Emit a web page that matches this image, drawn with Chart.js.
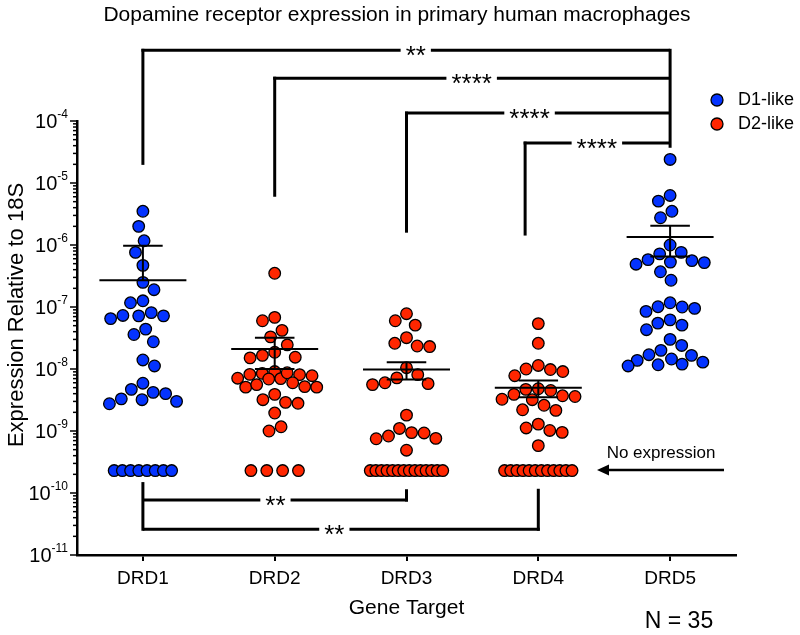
<!DOCTYPE html>
<html>
<head>
<meta charset="utf-8">
<script src="https://cdn.jsdelivr.net/npm/chart.js@4.4.1/dist/chart.umd.min.js"></script>
<style>
  html, body { margin: 0; padding: 0; background: #fff; }
  #wrap { width: 800px; height: 635px; position: relative; }
</style>
</head>
<body>
<div id="wrap"><canvas id="grafico"></canvas></div>
<script>
// value used for samples with no detectable expression
const NE = 2.3e-10;

const genes = ['DRD1', 'DRD2', 'DRD3', 'DRD4', 'DRD5'];
const family = ['D1-like', 'D2-like', 'D2-like', 'D2-like', 'D1-like'];

const drd1 = [3.5e-6, 2.0e-6, 1.17e-6, 7.6e-7, 4.7e-7, 2.5e-7, 1.9e-7, 1.17e-7, 1.26e-7,
  7.2e-8, 7.2e-8, 6.5e-8, 7.3e-8, 8.1e-8, 4.4e-8, 3.6e-8, 2.75e-8, 1.4e-8, 1.12e-8,
  5.9e-9, 4.2e-9, 3.3e-9, 3.0e-9, 2.75e-9, 3.2e-9, 4.0e-9, 4.7e-9,
  NE, NE, NE, NE, NE, NE, NE, NE];
const drd2 = [3.5e-7, 6.8e-8, 6.0e-8, 4.2e-8, 3.3e-8, 2.45e-8, 1.86e-8, 1.66e-8, 1.51e-8,
  1.55e-8, 8.5e-9, 8.1e-9, 9.1e-9, 6.9e-9, 7.0e-9, 8.7e-9, 7.1e-9, 7.8e-9, 8.2e-9,
  5.1e-9, 5.2e-9, 6.0e-9, 5.6e-9, 5.1e-9, 3.9e-9, 3.2e-9, 2.8e-9, 2.9e-9, 1.95e-9,
  1.17e-9, 1.0e-9, NE, NE, NE, NE];
const drd3 = [7.8e-8, 6.0e-8, 5.1e-8, 3.2e-8, 2.6e-8, 2.3e-8, 2.35e-8, 1.05e-8, 7.2e-9,
  5.8e-9, 5.6e-9, 6.0e-9, 8.1e-9, 1.8e-9, 9.3e-10, 8.3e-10, 1.1e-9, 7.6e-10, 7.5e-10,
  9.4e-10, 4.9e-10, NE, NE, NE, NE, NE, NE, NE, NE, NE, NE, NE, NE, NE, NE];
const drd4 = [5.4e-8, 2.6e-8, 1.14e-8, 9.8e-9, 7.8e-9, 9.1e-9, 1.0e-8, 4.7e-9, 3.9e-9,
  3.6e-9, 3.2e-9, 2.6e-9, 3.25e-9, 3.7e-9, 4.5e-9, 4.8e-9, 2.2e-9, 2.15e-9, 1.12e-9,
  9.5e-10, 1.29e-9, 1.02e-9, 5.8e-10, NE, NE, NE, NE, NE, NE, NE, NE, NE, NE, NE, NE];
const drd5 = [2.4e-5, 6.3e-6, 5.1e-6, 3.5e-6, 2.75e-6, 1.0e-6, 7.6e-7, 5.2e-7, 5.8e-7,
  4.9e-7, 5.6e-7, 7.2e-7, 5.3e-7, 3.7e-7, 2.7e-7, 1.17e-7, 1.0e-7, 9.5e-8, 8.5e-8,
  1.01e-7, 6.2e-8, 5.1e-8, 5.5e-8, 4.3e-8, 3.0e-8, 2.4e-8, 2.0e-8, 1.66e-8, 1.38e-8,
  1.2e-8, 1.12e-8, 1.17e-8, 1.29e-8, 1.45e-8, 1.7e-8];

// mean and error bar as drawn
const means = [2.7e-7, 2.1e-8, 9.8e-9, 5.0e-9, 1.35e-6];
const errs = [7.0e-7, 1.1e-8, 3.0e-9, 1.5e-9, 7.0e-7];

const yTickPowers = [-11, -10, -9, -8, -7, -6, -5, -4];

// comparisons: [gene a, gene b, label]
const topComparisons = [[0, 4, '**'], [1, 4, '****'], [2, 4, '****'], [3, 4, '****']];
const bottomComparisons = [[0, 2, '**'], [0, 3, '**']];

const FONT = '"Liberation Sans", Arial, Helvetica, sans-serif';
const colors = { 'D1-like': '#0433ff', 'D2-like': '#ff2600' };

// bracket placement in value units
const topLevels = [1.38e-3, 4.9e-4, 1.34e-4, 4.4e-5];
const topLegEnds = [1.96e-5, 6.0e-6, 1.58e-6, 1.42e-6];
const topLegShift = [0, 0, 0, -0.1];
const topLabelShift = [10, 0, -8, 0];
const topRightEnd = 3.7e-5;
const bottomLevels = [7.7e-11, 2.6e-11];
const bottomLabelShift = [0, -7];
const bottomLeftTop = 1.5e-10;
const bottomRightTops = [1.15e-10, 1.17e-10];

const series = [drd1, drd2, drd3, drd4, drd5];

// simple beeswarm: points closer than an ellipse (DX, DY) push sideways,
// limited to +-W; past that the spot with least crowding is taken
function swarm(pts, DX, DY, W) {
  const placed = [];
  let flip = 1;
  pts.sort((a, b) => a.y - b.y);
  pts.forEach(p => {
    const near = placed.filter(q => Math.abs(q.y - p.y) < DY);
    const blocks = near.map(q => {
      const dy = Math.abs(q.y - p.y);
      const w = DX * Math.sqrt(1 - (dy / DY) * (dy / DY));
      return [q.dx - w, q.dx + w];
    });
    const cands = [0];
    blocks.forEach(b => cands.push(b[0], b[1]));
    cands.sort((a, b) => (Math.abs(a) - Math.abs(b)) || (a - b) * flip);
    let dx = null;
    for (const c of cands) {
      if (Math.abs(c) > W) break;
      if (blocks.every(b => c <= b[0] + 1e-6 || c >= b[1] - 1e-6)) { dx = c; break; }
    }
    if (dx === null) {
      let best = -1;
      for (let c = -W; c <= W; c += 1) {
        let score = Infinity;
        near.forEach(q => {
          const d = Math.hypot((c - q.dx) / DX, (p.y - q.y) / DY);
          if (d < score) score = d;
        });
        if (score > best + 1e-9 || (Math.abs(score - best) < 1e-9 && Math.abs(c) < Math.abs(dx))) {
          best = score;
          dx = c;
        }
      }
    }
    if (dx !== 0) flip = -flip;
    p.dx = dx;
    placed.push(p);
  });
}

function line(ctx, x1, y1, x2, y2) {
  ctx.beginPath();
  ctx.moveTo(x1, y1);
  ctx.lineTo(x2, y2);
  ctx.stroke();
}

function texto(ctx, s, x, y, size, align, base) {
  ctx.font = size + 'px ' + FONT;
  ctx.textAlign = align || 'center';
  ctx.textBaseline = base || 'middle';
  ctx.fillStyle = '#000';
  ctx.fillText(s, x, y);
}

// horizontal line with a gap holding the significance label
function starLine(ctx, x1, x2, yy, label, shift) {
  ctx.font = '26px ' + FONT;
  const w = ctx.measureText(label).width;
  const xm = (x1 + x2) / 2 + shift;
  line(ctx, x1, yy, xm - w / 2 - 5, yy);
  line(ctx, xm + w / 2 + 5, yy, x2, yy);
  texto(ctx, label, xm, yy + 13.5, 26, 'center', 'alphabetic');
}

const desenho = {
  id: 'desenho',
  afterDatasetsUpdate(chart) {
    const x = chart.scales.x;
    chart.data.datasets.forEach((ds, i) => {
      const meta = chart.getDatasetMeta(i);
      const cx = x.getPixelForValue(i);
      const floor = [], rest = [];
      meta.data.forEach((el, j) => {
        (ds.data[j].y === NE ? floor : rest).push({ el: el, y: el.y });
      });
      swarm(rest, 12.5, 16, 42);
      rest.forEach(p => { p.el.x = cx + p.dx; });
      const n = floor.length;
      if (n > 1) {
        const span = Math.min((n - 1) * 18.7, 40 + 2.5 * (n - 1));
        floor.forEach((p, k) => { p.el.x = cx - span / 2 + span * k / (n - 1); });
      } else if (n === 1) {
        floor[0].el.x = cx;
      }
    });
  },
  afterDatasetsDraw(chart) {
    const { ctx, scales: { x, y } } = chart;
    ctx.save();
    ctx.strokeStyle = '#000';
    ctx.lineWidth = 2;
    means.forEach((m, i) => {
      const xc = x.getPixelForValue(i);
      const hw = x.getPixelForValue(i + 0.33) - xc;
      const cw = x.getPixelForValue(i + 0.15) - xc;
      const ym = y.getPixelForValue(m);
      const yu = y.getPixelForValue(m + errs[i]);
      const hasLow = m - errs[i] > 0;
      const yl = hasLow ? y.getPixelForValue(m - errs[i]) : ym;
      line(ctx, xc - hw, ym, xc + hw, ym);
      line(ctx, xc, yu, xc, yl);
      line(ctx, xc - cw, yu, xc + cw, yu);
      if (hasLow) line(ctx, xc - cw, yl, xc + cw, yl);
    });
    ctx.restore();
  },
  afterDraw(chart) {
    const { ctx, chartArea, scales: { x, y } } = chart;
    ctx.save();
    ctx.strokeStyle = '#000';

    // y ticks with superscript labels
    ctx.lineWidth = 1.5;
    for (let p = -11; p <= -4; p++) {
      for (let m = 1; m <= 9; m++) {
        if (p === -4 && m > 1) break;
        const py = y.getPixelForValue(m * Math.pow(10, p));
        line(ctx, chartArea.left - (m === 1 ? 7 : 4), py, chartArea.left, py);
      }
    }
    yTickPowers.forEach(p => {
      const py = y.getPixelForValue(Math.pow(10, p));
      ctx.font = '20px ' + FONT;
      const w1 = ctx.measureText('10').width;
      ctx.font = '12px ' + FONT;
      const sup = String(p);
      const w2 = ctx.measureText(sup).width;
      const right = chartArea.left - 9;
      texto(ctx, '10', right - w2 - w1, py + 7, 20, 'left', 'alphabetic');
      texto(ctx, sup, right - w2, py - 3, 12, 'left', 'alphabetic');
    });

    // titles
    texto(ctx, 'Dopamine receptor expression in primary human macrophages', 397, 15, 21);
    ctx.save();
    ctx.translate(17, 315);
    ctx.rotate(-Math.PI / 2);
    texto(ctx, 'Expression Relative to 18S', 0, 0, 22);
    ctx.restore();
    texto(ctx, 'N = 35', 679, 622, 23);

    // top brackets
    ctx.lineWidth = 3;
    ctx.lineCap = 'butt';
    ctx.lineJoin = 'miter';
    const xr = x.getPixelForValue(4);
    topComparisons.forEach((c, k) => {
      const xa = x.getPixelForValue(c[0] + topLegShift[k]);
      const yl = y.getPixelForValue(topLevels[k]);
      line(ctx, xa, y.getPixelForValue(topLegEnds[k]), xa, yl - 1.5);
      starLine(ctx, xa - 1.5, xr, yl, c[2], topLabelShift[k]);
    });
    line(ctx, xr, y.getPixelForValue(topLevels[0]) - 1.5, xr, y.getPixelForValue(topRightEnd));

    // bottom brackets
    const xl = x.getPixelForValue(0);
    line(ctx, xl, y.getPixelForValue(bottomLeftTop), xl, y.getPixelForValue(bottomLevels[1]) + 1.5);
    bottomComparisons.forEach((c, k) => {
      const xb = x.getPixelForValue(c[1]);
      const yl = y.getPixelForValue(bottomLevels[k]);
      starLine(ctx, xl, xb + 1.5, yl, c[2], bottomLabelShift[k]);
      line(ctx, xb, y.getPixelForValue(bottomRightTops[k]), xb, yl + 1.5);
    });

    // no expression note
    texto(ctx, 'No expression', 661, 453, 17);
    ctx.lineWidth = 2.5;
    line(ctx, 724, 470, 606, 470);
    ctx.beginPath();
    ctx.moveTo(597, 470);
    ctx.lineTo(609, 464.5);
    ctx.lineTo(609, 475.5);
    ctx.closePath();
    ctx.fillStyle = '#000';
    ctx.fill();

    // legend
    ['D1-like', 'D2-like'].forEach((lab, k) => {
      const ly = 100 + k * 24;
      ctx.beginPath();
      ctx.arc(717, ly, 6, 0, Math.PI * 2);
      ctx.fillStyle = colors[lab];
      ctx.fill();
      ctx.lineWidth = 1.3;
      ctx.stroke();
      texto(ctx, lab, 738, ly, 18, 'left', 'middle');
    });
    ctx.restore();
  }
};

Chart.defaults.font.family = FONT;
Chart.defaults.color = '#000';

const grafico = new Chart(document.getElementById('grafico').getContext('2d'), {
  type: 'scatter',
  plugins: [desenho],
  data: {
    labels: genes,
    datasets: series.map((vals, i) => ({
      label: genes[i],
      data: vals.map(v => ({ x: genes[i], y: v })),
      backgroundColor: colors[family[i]],
      borderColor: '#000',
      borderWidth: 1.3,
      pointRadius: 5.8,
      pointHoverRadius: 5.8
    }))
  },
  options: {
    responsive: true,
    maintainAspectRatio: false,
    animation: false,
    events: [],
    layout: { padding: { top: 121, left: 77, right: 64, bottom: 10 } },
    plugins: {
      legend: { display: false },
      tooltip: { enabled: false }
    },
    scales: {
      x: {
        type: 'category',
        labels: genes,
        offset: true,
        grid: { display: true, drawOnChartArea: false, offset: false, tickLength: 6, lineWidth: 2, color: '#000' },
        border: { display: true, color: '#000', width: 2.5 },
        ticks: { font: { size: 19 }, color: '#000', padding: 6 },
        title: { display: true, text: 'Gene Target', font: { size: 21 }, color: '#000', padding: { top: 0, bottom: 4 } }
      },
      y: {
        type: 'logarithmic',
        min: 1e-11,
        max: 1e-4,
        grid: { display: false, drawTicks: false },
        border: { display: true, color: '#000', width: 2.5 },
        ticks: { display: false }
      }
    }
  }
});
</script>
</body>
</html>
